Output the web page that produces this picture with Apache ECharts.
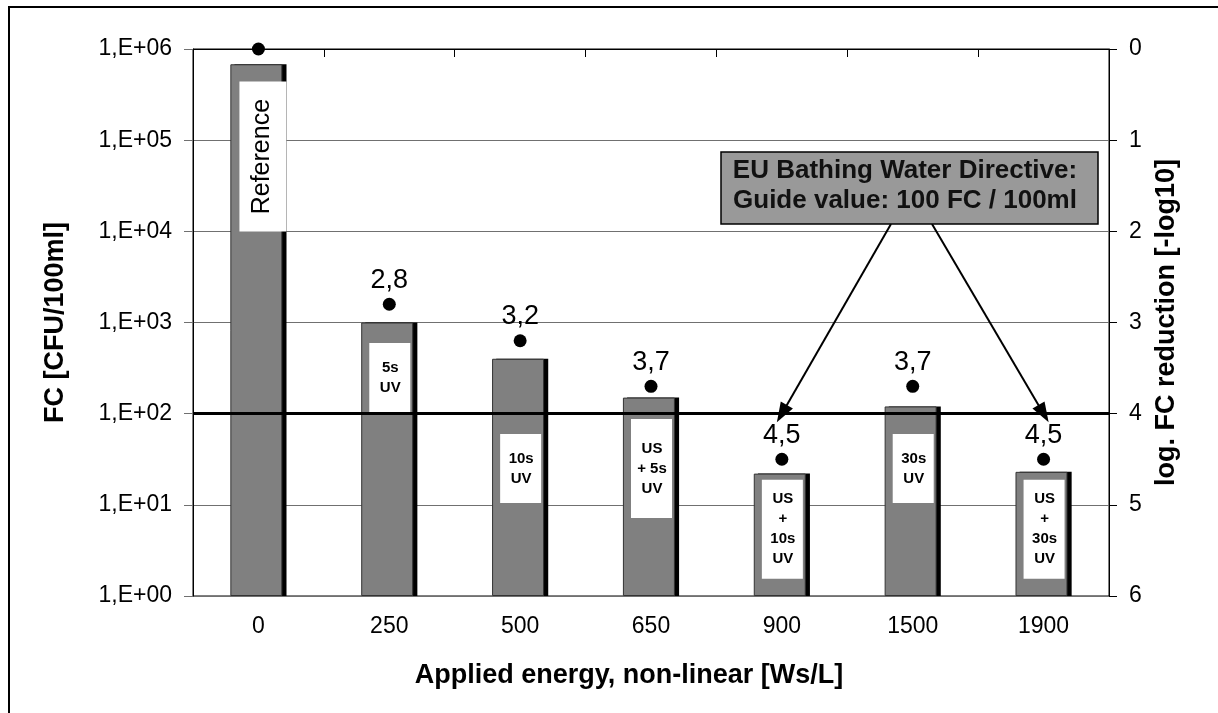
<!DOCTYPE html>
<html>
<head>
<meta charset="utf-8">
<script src="https://cdn.jsdelivr.net/npm/echarts@6/dist/echarts.min.js"></script>
<style>
  html, body { margin: 0; padding: 0; background: #fff; }
  #chart { width: 1218px; height: 713px; }
</style>
</head>
<body>
<div id="chart"></div>
<script>
// applied energy [Ws/L], one bar per treatment
const categories = ["0", "250", "500", "650", "900", "1500", "1900"];
// FC counts [CFU/100ml]
const fcValues = [680000, 1000, 400, 150, 22, 120, 23];
// log reduction [-log10]
const logReduction = [0, 2.8, 3.2, 3.7, 4.5, 3.7, 4.5];
const treatments = ["Reference", "5s\nUV", "10s\nUV", "US\n+ 5s\nUV", "US\n+\n10s\nUV", "30s\nUV", "US\n+\n30s\nUV"];
const guideValue = 100;
const arrowTargets = ["900", "1900"];

// where the treatment boxes sit (on the FC scale)
const boxAnchor = [66000, 250, 25, 25, 5.4, 25, 5.4];

const FONT = "Liberation Sans, Arial, sans-serif";
const chart = echarts.init(document.getElementById("chart"), null, { renderer: "canvas" });

const option = {
  animation: false,
  backgroundColor: "#fff",
  textStyle: { fontFamily: FONT, color: "#000" },
  grid: { left: 193, right: 109, top: 49, bottom: 117, show: true, borderColor: "#000", borderWidth: 1 },
  xAxis: {
    type: "category",
    data: categories,
    name: "Applied energy, non-linear [Ws/L]",
    nameLocation: "middle",
    nameGap: 66,
    nameTextStyle: { fontSize: 27, fontWeight: "bold", color: "#000", padding: [0, 44, 0, 0] },
    axisLine: { lineStyle: { color: "#000", width: 1 } },
    axisTick: { show: true, length: 8, lineStyle: { color: "#000" } },
    axisLabel: { fontSize: 23, color: "#000", margin: 19 },
  },
  yAxis: [
    {
      type: "log",
      logBase: 10,
      min: 1,
      max: 1000000,
      name: "FC [CFU/100ml]",
      nameLocation: "middle",
      nameRotate: 90,
      nameGap: 124,
      nameTextStyle: { fontSize: 27, fontWeight: "bold", color: "#000" },
      axisLine: { show: true, lineStyle: { color: "#000" } },
      axisTick: { show: true, length: 9, lineStyle: { color: "#707070" } },
      axisLabel: {
        fontSize: 23,
        color: "#000",
        margin: 21,
        formatter: function (v) {
          const e = Math.round(Math.log10(v));
          return "1,E+" + (e < 10 ? "0" : "") + e;
        },
      },
      splitLine: { show: true, lineStyle: { color: "#707070", width: 1 } },
    },
    {
      type: "value",
      min: 0,
      max: 6,
      interval: 1,
      inverse: true,
      position: "right",
      name: "log. FC reduction [-log10]",
      nameLocation: "middle",
      nameRotate: 90,
      nameGap: 42,
      nameTextStyle: { fontSize: 27, fontWeight: "bold", color: "#000" },
      axisLine: { show: true, lineStyle: { color: "#000" } },
      axisTick: { show: true, length: 8, lineStyle: { color: "#000" } },
      axisLabel: { fontSize: 23, color: "#000", margin: 20 },
      splitLine: { show: false },
    },
  ],
  graphic: [
    {
      type: "rect",
      z: -10,
      shape: { x: 9, y: 7, width: 1300, height: 800 },
      style: { fill: "none", stroke: "#000", lineWidth: 2 },
    },
    {
      type: "rect",
      z: 50,
      shape: { x: 721, y: 152, width: 377, height: 72 },
      style: { fill: "#999", stroke: "#000", lineWidth: 1.5 },
    },
    {
      type: "text",
      z: 51,
      x: 905,
      y: 186,
      style: {
        text: "EU Bathing Water Directive:\nGuide value: 100 FC / 100ml",
        font: "bold 26px " + FONT,
        fill: "#111",
        align: "center",
        verticalAlign: "middle",
        lineHeight: 30,
      },
    },
  ],
  series: [
    {
      name: "FC",
      type: "bar",
      data: fcValues,
      barWidth: 52,
      barGap: "-92%",
      z: 3,
      itemStyle: { color: "#808080", borderColor: "#333", borderWidth: 1 },
      emphasis: { disabled: true },
      markLine: {
        silent: true,
        symbol: "none",
        label: { show: false },
        lineStyle: { color: "#000", width: 3, type: "solid" },
        data: [{ yAxis: guideValue }],
      },
    },
    {
      name: "shadow",
      type: "bar",
      data: fcValues,
      barWidth: 52,
      barGap: "-92%",
      silent: true,
      z: 1,
      itemStyle: { color: "#000" },
      emphasis: { disabled: true },
    },
    {
      name: "Treatment",
      type: "custom",
      z: 5,
      data: boxAnchor.map(function (v, i) { return [i, v]; }),
      renderItem: function (params, api) {
        const p = api.coord([api.value(0), api.value(1)]);
        const txt = treatments[params.dataIndex];
        if (params.dataIndex === 0) {
          return {
            type: "group",
            children: [
              { type: "rect", shape: { x: p[0] - 19, y: p[1] - 75, width: 47, height: 150 }, style: { fill: "#fff" } },
              {
                type: "text",
                x: p[0] + 4,
                y: p[1],
                rotation: Math.PI / 2,
                style: { text: txt, font: "25px " + FONT, fill: "#000", align: "center", verticalAlign: "middle" },
              },
            ],
          };
        }
        const lines = txt.split("\n").length;
        const h = lines > 2 ? 99 : 69;
        return {
          type: "group",
          children: [
            { type: "rect", shape: { x: p[0] - 20, y: p[1] - h / 2, width: 41, height: h }, style: { fill: "#fff" } },
            {
              type: "text",
              x: p[0] + 1,
              y: p[1],
              style: { text: txt, font: "bold 15px " + FONT, fill: "#000", align: "center", verticalAlign: "middle", lineHeight: 20 },
            },
          ],
        };
      },
      markLine: {
        silent: true,
        symbol: ["none", "triangle"],
        symbolSize: [14, 20],
        label: { show: false },
        lineStyle: { color: "#000", width: 2, type: "solid" },
        data: [
          [{ x: 891, y: 224 }, { coord: [arrowTargets[0], guideValue] }],
          [{ x: 932, y: 224 }, { coord: [arrowTargets[1], guideValue] }],
        ],
      },
    },
    {
      name: "log reduction",
      type: "scatter",
      yAxisIndex: 1,
      z: 6,
      data: logReduction.map(function (v, i) { return [categories[i], v]; }),
      symbol: "circle",
      symbolSize: 13,
      itemStyle: { color: "#000", opacity: 1 },
      emphasis: { disabled: true },
      label: {
        show: true,
        position: "top",
        distance: 4,
        fontSize: 27,
        color: "#000",
        formatter: function (p) {
          const v = p.value[1];
          return v === 0 ? "" : v.toFixed(1).replace(".", ",");
        },
      },
    },
  ],
};

chart.setOption(option);
</script>
</body>
</html>
